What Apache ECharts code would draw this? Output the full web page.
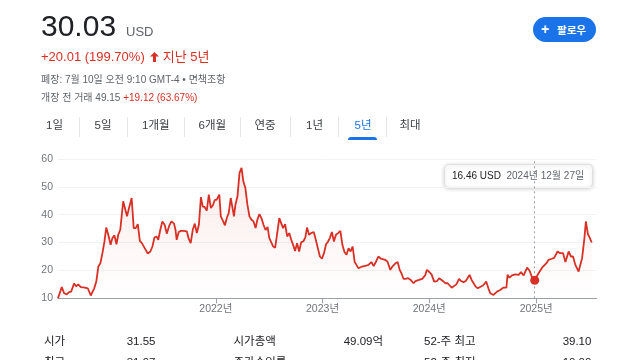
<!DOCTYPE html>
<html>
<head>
<meta charset="utf-8">
<script src="https://cdn.jsdelivr.net/npm/echarts@6/dist/echarts.min.js"></script>
<style>
  html, body { margin:0; padding:0; background:#fff; }
  body { width:640px; height:360px; position:relative; overflow:hidden;
         font-family:"Liberation Sans", Arial, "Noto Sans CJK KR", sans-serif; }
  #chart { position:absolute; left:0; top:0; width:640px; height:360px; }
  .t { position:absolute; white-space:nowrap; }
  .sep { position:absolute; top:117px; width:1px; height:20px; background:#e3e5e8; }
</style>
</head>
<body>
<div id="chart"></div>

<div class="t" style="left:41px;top:10.6px;font-size:30px;line-height:30px;color:#202124;">30.03</div>
<div class="t" style="left:126px;top:25px;font-size:13px;line-height:13px;color:#5f6368;">USD</div>
<div class="t" style="left:41px;top:50px;font-size:13px;line-height:13px;color:#d93025;">+20.01 (199.70%)<svg width="9" height="10" viewBox="0 0 9 10" style="margin:0 4px 0 5px;vertical-align:-1px"><path d="M4.5 0 L9 4.6 L6 4.6 L6 10 L3 10 L3 4.6 L0 4.6 Z" fill="#d93025"/></svg>지난 5년</div>
<div class="t" style="left:41px;top:75px;font-size:10px;line-height:10px;color:#5f6368;">폐장: 7월 10일 오전 9:10 GMT-4 • 면책조항</div>
<div class="t" style="left:41px;top:93px;font-size:10px;line-height:10px;color:#5f6368;">개장 전 거래 49.15 <span style="color:#d93025">+19.12 (63.67%)</span></div>

<div style="position:absolute;left:533px;top:17px;width:63px;height:25px;border-radius:13px;background:#1a73e8;"></div>
<div class="t" style="left:541px;top:22px;font-size:14px;line-height:14px;color:#fff;font-weight:bold;">+</div>
<div class="t" style="left:557px;top:24.5px;font-size:10.5px;line-height:10.5px;color:#fff;font-weight:bold;">팔로우</div>

<div class="t" style="left:46px;top:120.3px;font-size:11.5px;line-height:11.5px;color:#3c4043;">1일</div>
<div class="sep" style="left:79px"></div>
<div class="t" style="left:94.5px;top:120.3px;font-size:11.5px;line-height:11.5px;color:#3c4043;">5일</div>
<div class="sep" style="left:127px"></div>
<div class="t" style="left:142px;top:120.3px;font-size:11.5px;line-height:11.5px;color:#3c4043;">1개월</div>
<div class="sep" style="left:184px"></div>
<div class="t" style="left:198.5px;top:120.3px;font-size:11.5px;line-height:11.5px;color:#3c4043;">6개월</div>
<div class="sep" style="left:240px"></div>
<div class="t" style="left:254.5px;top:120.3px;font-size:11.5px;line-height:11.5px;color:#3c4043;">연중</div>
<div class="sep" style="left:290px"></div>
<div class="t" style="left:306px;top:120.3px;font-size:11.5px;line-height:11.5px;color:#3c4043;">1년</div>
<div class="sep" style="left:338px"></div>
<div class="t" style="left:354.5px;top:120.3px;font-size:11.5px;line-height:11.5px;color:#1a73e8;">5년</div>
<div style="position:absolute;left:348px;top:137px;width:29px;height:3px;background:#1a73e8;border-radius:3px 3px 0 0;"></div>
<div class="sep" style="left:386px"></div>
<div class="t" style="left:399.5px;top:120.3px;font-size:11.5px;line-height:11.5px;color:#3c4043;">최대</div>

<div class="t" style="left:44px;top:336.3px;font-size:11.5px;line-height:11.5px;color:#202124;">시가</div>
<div class="t" style="right:484.5px;top:336.3px;font-size:11.5px;line-height:11.5px;color:#202124;">31.55</div>
<div class="t" style="left:233.5px;top:336.3px;font-size:11.5px;line-height:11.5px;color:#202124;">시가총액</div>
<div class="t" style="right:257px;top:336.3px;font-size:11.5px;line-height:11.5px;color:#202124;">49.09억</div>
<div class="t" style="left:424px;top:336.3px;font-size:11.5px;line-height:11.5px;color:#202124;">52-주 최고</div>
<div class="t" style="right:48.6px;top:336.3px;font-size:11.5px;line-height:11.5px;color:#202124;">39.10</div>
<div class="t" style="left:44px;top:357px;font-size:11.5px;line-height:11.5px;color:#202124;">최고</div>
<div class="t" style="right:484.5px;top:357px;font-size:11.5px;line-height:11.5px;color:#202124;">31.97</div>
<div class="t" style="left:233.5px;top:357px;font-size:11.5px;line-height:11.5px;color:#202124;">주가수익률</div>
<div class="t" style="left:424px;top:357px;font-size:11.5px;line-height:11.5px;color:#202124;">52-주 최저</div>
<div class="t" style="right:48.6px;top:357px;font-size:11.5px;line-height:11.5px;color:#202124;">10.00</div>

<script>
var dates = [
 '2020-07-10','2020-07-23','2020-07-31','2020-08-09','2020-08-17','2020-08-24','2020-09-03','2020-09-10','2020-09-17','2020-09-26',
 '2020-10-10','2020-10-20','2020-10-24','2020-10-30','2020-11-04','2020-11-11','2020-11-18','2020-11-25','2020-12-02','2020-12-09',
 '2020-12-16','2020-12-22','2020-12-29','2021-01-06','2021-01-12','2021-01-19','2021-01-26','2021-02-01','2021-02-08','2021-02-18',
 '2021-02-24','2021-03-03','2021-03-10','2021-03-19','2021-03-26','2021-04-02','2021-04-09','2021-04-16','2021-04-23','2021-04-29',
 '2021-05-06','2021-05-13','2021-05-22','2021-05-29','2021-06-05','2021-06-12','2021-06-18','2021-06-25','2021-07-02','2021-07-10',
 '2021-07-17','2021-07-26','2021-08-02','2021-08-11','2021-08-16','2021-08-20','2021-08-27','2021-09-03','2021-09-12','2021-09-24',
 '2021-09-30','2021-10-07','2021-10-14','2021-10-21','2021-10-28','2021-11-04','2021-11-11','2021-11-17','2021-11-24','2021-12-01',
 '2021-12-08','2021-12-15','2021-12-22','2021-12-28','2022-01-04','2022-01-13','2022-01-18','2022-01-25','2022-02-01','2022-02-08',
 '2022-02-14','2022-02-21','2022-02-25','2022-03-04','2022-03-09','2022-03-16','2022-03-23','2022-03-30','2022-04-05','2022-04-12',
 '2022-04-19','2022-04-26','2022-05-03','2022-05-10','2022-05-17','2022-05-23','2022-05-30','2022-06-06','2022-06-13','2022-06-20',
 '2022-06-27','2022-07-03','2022-07-09','2022-07-16','2022-07-23','2022-07-30','2022-08-06','2022-08-12','2022-08-19','2022-08-26',
 '2022-09-02','2022-09-09','2022-09-16','2022-09-23','2022-09-29','2022-10-06','2022-10-13','2022-10-20','2022-10-27','2022-11-03',
 '2022-11-09','2022-11-16','2022-11-23','2022-12-02','2022-12-09','2022-12-16','2022-12-23','2022-12-30','2023-01-06','2023-01-13',
 '2023-01-19','2023-01-26','2023-02-02','2023-02-09','2023-02-16','2023-02-23','2023-03-03','2023-03-10','2023-03-17','2023-03-24',
 '2023-03-31','2023-04-07','2023-04-14','2023-04-21','2023-04-27','2023-05-04','2023-05-16','2023-05-27','2023-06-07','2023-06-17',
 '2023-06-25','2023-07-04','2023-07-11','2023-07-20','2023-08-03','2023-08-11','2023-08-21','2023-08-28','2023-09-08','2023-09-15',
 '2023-09-22','2023-09-28','2023-10-05','2023-10-12','2023-10-21','2023-10-31','2023-11-08','2023-11-15','2023-11-27','2023-12-08',
 '2023-12-18','2023-12-24','2023-12-31','2024-01-09','2024-01-18','2024-01-28','2024-02-04','2024-02-10','2024-02-19','2024-02-26',
 '2024-03-04','2024-03-11','2024-03-18','2024-03-24','2024-04-03','2024-04-12','2024-04-19','2024-04-28','2024-05-05','2024-05-11',
 '2024-05-18','2024-05-25','2024-06-01','2024-06-08','2024-06-15','2024-06-21','2024-07-03','2024-07-14','2024-07-22','2024-07-28',
 '2024-08-08','2024-08-20','2024-08-31','2024-09-10','2024-09-21','2024-09-25','2024-10-02','2024-10-10','2024-10-22','2024-11-02',
 '2024-11-10','2024-11-19','2024-12-01','2024-12-10','2024-12-18','2024-12-27','2025-01-09','2025-01-21','2025-02-05','2025-02-12',
 '2025-02-24','2025-03-04','2025-03-15','2025-03-24','2025-04-03','2025-04-11','2025-04-16','2025-04-22','2025-04-30','2025-05-07',
 '2025-05-15','2025-05-26','2025-06-07','2025-06-15','2025-06-20','2025-06-27','2025-07-03','2025-07-10'
];
var prices = [
 10.0,14.0,11.8,11.4,12.2,12.4,15.3,14.3,15.0,14.0,
 13.8,13.6,13.0,11.0,11.4,13.6,16.0,21.4,22.6,26.2,
 30.4,35.4,32.8,29.2,31.6,32.6,29.4,32.8,34.6,44.8,
 42.4,39.4,42.4,46.0,35.2,35.2,36.6,30.6,29.8,30.2,
 27.4,26.1,26.8,28.6,31.8,32.2,31.0,34.6,37.6,36.4,
 33.2,36.2,37.6,36.8,34.6,31.0,33.8,34.2,34.2,34.0,
 31.4,29.8,34.6,36.8,33.4,36.4,46.3,43.0,42.7,41.5,
 47.2,42.4,43.4,45.2,45.4,47.2,39.4,37.9,36.2,39.0,
 40.6,46.0,43.6,39.4,43.6,46.6,55.0,56.8,52.0,49.6,
 43.6,39.4,38.2,37.6,35.2,38.2,40.2,38.8,36.4,34.5,
 35.6,31.6,31.0,28.6,28.2,33.4,38.8,38.2,35.2,36.6,
 32.2,33.4,31.0,29.0,27.0,29.8,26.8,30.2,30.4,31.8,
 35.4,32.8,33.4,33.8,31.0,28.0,25.0,24.2,26.2,29.4,
 30.2,31.6,33.8,30.4,32.8,33.4,34.2,29.2,26.6,25.6,
 28.0,26.8,28.6,23.0,22.0,20.8,21.4,21.6,22.0,23.0,
 21.6,23.4,25.0,24.2,23.8,23.2,20.2,21.4,22.6,23.0,
 20.2,19.0,17.0,17.0,17.2,16.5,15.4,16.2,16.6,17.0,
 18.2,20.2,19.6,18.6,16.0,16.2,17.2,16.6,16.0,15.4,
 15.4,14.6,13.8,14.2,15.0,17.0,16.2,15.8,16.2,17.2,
 18.4,16.6,15.4,14.2,13.6,13.8,14.6,16.0,13.4,11.8,
 11.2,12.4,13.0,13.8,13.8,18.4,17.4,18.2,18.6,18.4,
 19.4,18.2,21.0,19.8,17.4,16.46,19.0,21.0,22.6,23.8,
 24.2,24.6,26.8,26.2,26.2,23.0,23.0,26.8,25.0,25.0,
 22.0,19.6,24.4,31.6,37.6,33.0,31.8,30.03
];
var axisStart = '2020-07-10';
var axisEnd = '2025-07-27';
var yearTicks = ['2022-01-01','2023-01-01','2024-01-01','2025-01-01'];
var yearLabels = ['2022년','2023년','2024년','2025년'];
var yTicks = [10, 20, 30, 40, 50, 60];
var hoverDate = '2024-12-27';
var hoverPrice = 16.46;
var hoverLabel = '2024년 12월 27일';

function ts(s) { return echarts.time.parse(s).getTime(); }
var seriesData = dates.map(function (d, i) { return [ts(d), prices[i]]; });
var tickValues = yearTicks.map(ts);

var chart = echarts.init(document.getElementById('chart'), null, { renderer: 'canvas' });
chart.setOption({
  animation: false,
  grid: { left: 58, right: 43.3, top: 159, bottom: 61.7, containLabel: false },
  xAxis: {
    type: 'value',
    min: ts(axisStart),
    max: ts(axisEnd),
    axisLine: { show: true, onZero: false, lineStyle: { color: '#9aa0a6', width: 1 } },
    axisTick: { show: true, length: 5, customValues: tickValues, lineStyle: { color: '#9aa0a6' } },
    axisLabel: {
      customValues: tickValues,
      margin: 6,
      fontSize: 10.5,
      color: '#70757a',
      fontFamily: '"Liberation Sans", "Noto Sans CJK KR", sans-serif',
      formatter: function (v) {
        var i = tickValues.indexOf(v);
        return i >= 0 ? yearLabels[i] : '';
      }
    },
    splitLine: { show: false }
  },
  yAxis: {
    type: 'value',
    min: yTicks[0], max: yTicks[yTicks.length - 1], interval: 10,
    axisLine: { show: false },
    axisTick: { show: false },
    axisLabel: { margin: 5, fontSize: 10.5, color: '#70757a',
      fontFamily: '"Liberation Sans", sans-serif' },
    splitLine: { show: true, lineStyle: { color: '#f1f3f4', width: 1 } }
  },
  series: [{
    type: 'line',
    data: seriesData,
    showSymbol: false,
    symbol: 'none',
    lineStyle: { color: '#d93025', width: 1.8 },
    itemStyle: { color: '#d93025' },
    areaStyle: {
      origin: 'start',
      color: new echarts.graphic.LinearGradient(0, 0, 0, 1, [
        { offset: 0, color: 'rgba(217,48,37,0.14)' },
        { offset: 1, color: 'rgba(217,48,37,0.0)' }
      ])
    },
    markLine: {
      silent: true,
      symbol: 'none',
      label: { show: false },
      lineStyle: { color: '#9aa0a6', type: [2, 3], width: 1 },
      data: [{ xAxis: ts(hoverDate) }]
    },
    markPoint: {
      silent: true,
      symbol: 'circle',
      symbolSize: 9,
      itemStyle: { color: '#d93025' },
      label: { show: false },
      data: [{ coord: [ts(hoverDate), hoverPrice] }]
    }
  }],
  graphic: [{
    type: 'group',
    z: 100,
    children: [
      { type: 'rect', shape: { x: 444.5, y: 164.5, width: 148, height: 23, r: 4 },
        style: { fill: '#fff', stroke: '#e0e0e0', lineWidth: 1,
                 shadowBlur: 4, shadowColor: 'rgba(0,0,0,0.18)', shadowOffsetY: 1 } },
      { type: 'text', x: 452, y: 176, style: { text: hoverPrice.toFixed(2) + ' USD',
          font: '10px "Liberation Sans", sans-serif', fill: '#202124', verticalAlign: 'middle' } },
      { type: 'text', x: 506.5, y: 176, style: { text: hoverLabel,
          font: '10px "Liberation Sans", "Noto Sans CJK KR", sans-serif', fill: '#5f6368', verticalAlign: 'middle' } }
    ]
  }]
});
</script>
</body>
</html>
